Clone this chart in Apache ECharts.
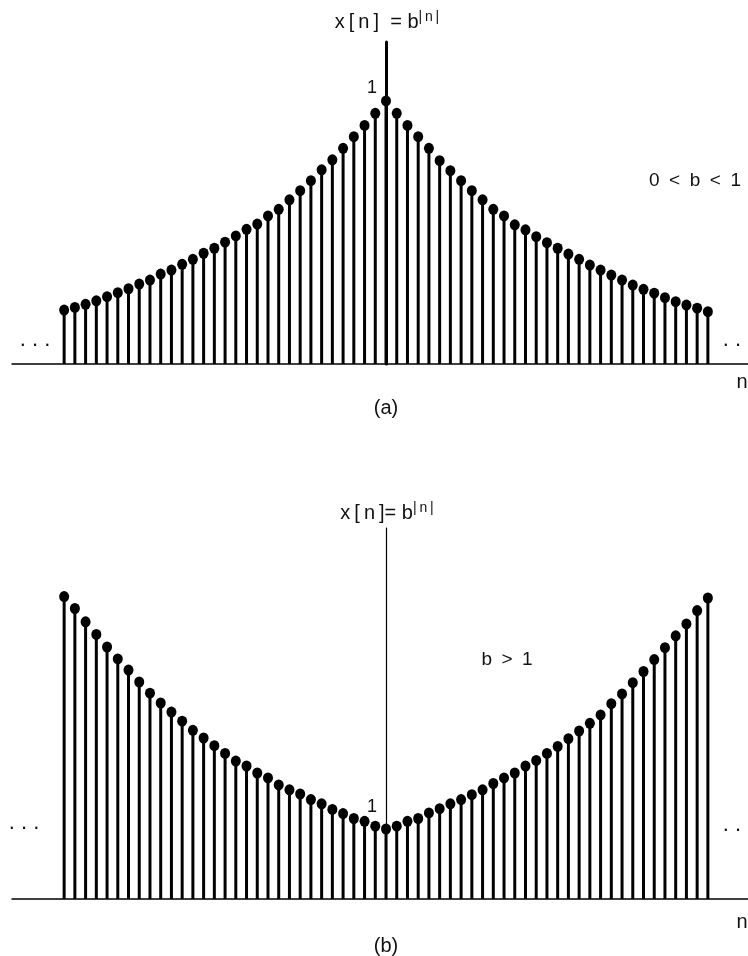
<!DOCTYPE html>
<html>
<head>
<meta charset="utf-8">
<script src="https://cdn.jsdelivr.net/npm/echarts@6/dist/echarts.min.js"></script>
<style>
  html, body { margin: 0; padding: 0; background: #fff; }
  #chart { width: 748px; height: 956px; }
</style>
</head>
<body>
<div id="chart"></div>
<script>
// sample index n
var nValues = [-30, -29, -28, -27, -26, -25, -24, -23, -22, -21, -20, -19, -18, -17, -16, -15,
  -14, -13, -12, -11, -10, -9, -8, -7, -6, -5, -4, -3, -2, -1, 0,
  1, 2, 3, 4, 5, 6, 7, 8, 9, 10, 11, 12, 13, 14, 15,
  16, 17, 18, 19, 20, 21, 22, 23, 24, 25, 26, 27, 28, 29, 30];

// (a) 0 < b < 1
var decayValues = [0.205, 0.215, 0.227, 0.240, 0.256, 0.271, 0.286, 0.304, 0.319, 0.342,
  0.357, 0.379, 0.398, 0.421, 0.440, 0.463, 0.487, 0.512, 0.532, 0.563,
  0.588, 0.624, 0.659, 0.697, 0.738, 0.776, 0.820, 0.864, 0.907, 0.953,
  1.000,
  0.953, 0.907, 0.864, 0.820, 0.773, 0.735, 0.697, 0.659, 0.624, 0.588,
  0.563, 0.529, 0.510, 0.484, 0.461, 0.440, 0.418, 0.398, 0.376, 0.357,
  0.338, 0.319, 0.300, 0.284, 0.269, 0.252, 0.237, 0.224, 0.212, 0.199];

// (b) b > 1
var growValues = [4.32, 4.15, 3.96, 3.78, 3.60, 3.43, 3.27, 3.10, 2.94, 2.80,
  2.67, 2.54, 2.41, 2.30, 2.19, 2.08, 1.97, 1.90, 1.80, 1.73,
  1.63, 1.56, 1.50, 1.42, 1.36, 1.28, 1.22, 1.15, 1.11, 1.04,
  1.00,
  1.04, 1.11, 1.15, 1.23, 1.29, 1.36, 1.42, 1.49, 1.56, 1.65,
  1.73, 1.80, 1.90, 1.98, 2.08, 2.18, 2.29, 2.40, 2.51, 2.63,
  2.79, 2.93, 3.09, 3.25, 3.42, 3.59, 3.76, 3.93, 4.12, 4.30];

var FONT = '"Liberation Sans", Arial, sans-serif';

let chart = echarts.init(document.getElementById('chart'));

var pairs = function(vals){
  return nValues.map(function(n, i){ return [n, vals[i]]; });
};

var stem = function(params, api){
  var a = api.coord([api.value(0), 0]);
  var b = api.coord([api.value(0), api.value(1)]);
  return {
    type: 'line',
    shape: { x1: a[0], y1: a[1], x2: b[0], y2: b[1] },
    style: { stroke: '#000', lineWidth: 3 }
  };
};

var xAxisOf = function(idx){
  return {
    type: 'value', gridIndex: idx, min: -34.86, max: 33.74,
    axisLine: { show: true, onZero: false, lineStyle: { color: '#000', width: 1.5 } },
    axisTick: { show: false }, axisLabel: { show: false }, splitLine: { show: false }
  };
};

var yAxisOf = function(idx, max, lineW){
  return {
    type: 'value', gridIndex: idx, min: 0, max: max, interval: 1,
    axisLine: { show: true, onZero: true, lineStyle: { color: '#000', width: lineW } },
    axisTick: { show: false },
    splitLine: { show: false },
    axisLabel: { show: false }
  };
};

var txt = function(x, y, s, size){
  return {
    type: 'text', x: x, y: y,
    style: { text: s, fontFamily: FONT, fontSize: size || 20, fill: '#111', align: 'center', verticalAlign: 'middle' }
  };
};

var eq = function(x, y, s){
  return {
    type: 'text', x: x, y: y,
    style: {
      text: s, fontFamily: FONT, fontSize: 20, fill: '#111', align: 'center', verticalAlign: 'middle',
      rich: { s: { fontFamily: FONT, fontSize: 14, fill: '#111', verticalAlign: 'top', padding: [0, 0, 9, 0] } }
    }
  };
};

let option = {
  backgroundColor: '#fff',
  animation: false,
  grid: [
    { left: 12, right: 0, top: 42, bottom: 592, containLabel: false, outerBoundsMode: 'none' },
    { left: 12, right: 0, top: 528, bottom: 57, containLabel: false, outerBoundsMode: 'none' }
  ],
  xAxis: [xAxisOf(0), xAxisOf(1)],
  yAxis: [yAxisOf(0, 1.224, 3), yAxisOf(1, 5.3, 1.2)],
  series: [
    { type: 'custom', xAxisIndex: 0, yAxisIndex: 0, renderItem: stem, data: pairs(decayValues), z: 2 },
    { type: 'scatter', xAxisIndex: 0, yAxisIndex: 0, data: pairs(decayValues), symbol: 'circle', symbolSize: [10, 11],
      itemStyle: { color: '#000', opacity: 1 }, z: 3 },
    { type: 'custom', xAxisIndex: 1, yAxisIndex: 1, renderItem: stem, data: pairs(growValues), z: 2 },
    { type: 'scatter', xAxisIndex: 1, yAxisIndex: 1, data: pairs(growValues), symbol: 'circle', symbolSize: [10, 11],
      itemStyle: { color: '#000', opacity: 1 }, z: 3 }
  ],
  graphic: [
    eq(387, 22, 'x\u2009[\u2009n\u2009]  = b{s||\u2009n\u2009|}'),
    eq(387, 513, 'x\u2009[\u2009n\u2009]= b{s||\u2009n\u2009|}'),
    txt(372, 88, '1', 18),
    txt(372, 807, '1', 18),
    txt(695, 181, '0\u2002<\u2002b\u2002<\u20021', 19),
    txt(507, 660, 'b\u2002>\u20021', 19),
    txt(35, 340, '. . .', 22),
    txt(738, 340, '. . .', 22),
    txt(24, 823, '. . .', 22),
    txt(738, 825, '. . .', 22),
    txt(742, 382, 'n'),
    txt(742, 922, 'n'),
    txt(386, 408, '(a)'),
    txt(386, 946, '(b)')
  ]
};

chart.setOption(option);
</script>
</body>
</html>
